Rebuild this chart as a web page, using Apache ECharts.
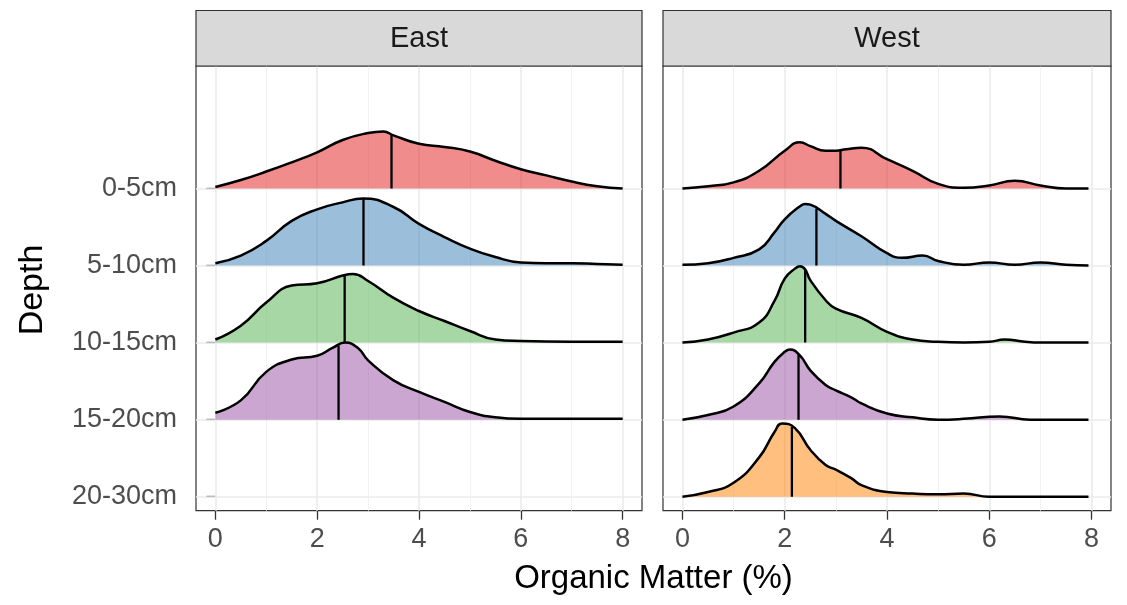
<!DOCTYPE html>
<html><head><meta charset="utf-8">
<script src="https://cdn.jsdelivr.net/npm/echarts@6/dist/echarts.min.js"></script>
<style>html,body{margin:0;padding:0;background:#fff}#c{width:1127px;height:605px}</style>
</head><body><div id="c"></div>
<script>
// ---- data ----
const depths = ['0-5cm', '5-10cm', '10-15cm', '15-20cm', '20-30cm'];
const panels = ['East', 'West'];
const xTicks = [0, 2, 4, 6, 8];
const xMinor = [1, 3, 5, 7];
const xTitle = 'Organic Matter (%)';
const yTitle = 'Depth';

// ridge heights (in row units) at sampled organic matter values
const eastX_0_5 = [0,0.5,1,1.5,2,2.5,3,3.3,3.5,4,4.5,5,5.5,6,6.5,7,7.5,8];
const eastH_0_5 = [0.02,0.11,0.22,0.34,0.47,0.63,0.72,0.74,0.69,0.58,0.54,0.48,0.36,0.25,0.17,0.09,0.03,0.00];
const eastX_5_10 = [0,0.5,1,1.5,2,2.5,2.9,3.5,4,4.5,5,5.5,6,6.5,7,7.5,8];
const eastH_5_10 = [0.03,0.13,0.32,0.58,0.73,0.82,0.87,0.76,0.54,0.37,0.22,0.11,0.04,0.03,0.03,0.02,0.01];
const eastX_10_15 = [0,0.5,1,1.5,2,2.5,2.7,3,3.5,4,4.5,5,5.5,6,7,8];
const eastH_10_15 = [0.04,0.22,0.52,0.74,0.77,0.87,0.89,0.80,0.58,0.41,0.28,0.15,0.04,0.02,0.01,0.01];
const eastX_15_20 = [0,0.5,1,1.5,2,2.3,2.55,2.8,3,3.5,4,4.5,5,5.5,6,7,8];
const eastH_15_20 = [0.09,0.25,0.62,0.78,0.83,0.93,1.00,0.93,0.77,0.51,0.36,0.23,0.10,0.03,0.01,0.01,0.01];
const eastMedians = [3.46, 2.91, 2.54, 2.42];

const westX_0_5 = [0,0.5,1,1.5,2,2.3,2.5,2.8,3,3.2,3.5,4,4.5,5,5.5,6,6.5,7,7.5,7.94];
const westH_0_5 = [0,0.03,0.08,0.23,0.49,0.60,0.55,0.49,0.49,0.51,0.53,0.38,0.23,0.06,0.01,0.04,0.10,0.04,0.00,0];
const westX_5_10 = [0,0.5,1,1.5,1.8,2,2.3,2.4,2.5,2.8,3,3.5,4,4.3,4.7,5,5.5,6,6.5,7,7.5,7.94];
const westH_5_10 = [0.01,0.03,0.10,0.21,0.43,0.60,0.77,0.80,0.79,0.67,0.58,0.38,0.16,0.10,0.13,0.06,0.01,0.04,0.01,0.04,0.01,0.00];
const westX_10_15 = [0,0.5,1,1.5,1.8,2,2.2,2.3,2.4,2.5,2.8,3,3.5,4,4.5,5,5.5,6,6.3,6.7,7,7.94];
const westH_10_15 = [0,0.04,0.13,0.26,0.54,0.83,0.96,0.99,0.95,0.81,0.55,0.44,0.32,0.14,0.04,0.01,0.00,0.01,0.04,0.01,0,0];
const westX_15_20 = [0,0.5,1,1.5,1.8,2,2.1,2.3,2.5,2.8,3,3.3,3.5,4,4.5,5,5.5,6.2,6.8,7.94];
const westH_15_20 = [0,0.06,0.17,0.47,0.75,0.88,0.91,0.83,0.64,0.45,0.38,0.29,0.21,0.08,0.03,0.00,0.01,0.04,0.00,0];
const westX_20_30 = [0,0.5,1,1.5,1.8,1.95,2.2,2.5,2.8,3,3.3,3.5,4,4.5,5,5.5,6,7,7.94];
const westH_20_30 = [0.00,0.06,0.18,0.51,0.84,0.95,0.89,0.61,0.41,0.35,0.24,0.15,0.06,0.04,0.03,0.04,0.00,0,0];
const westMedians = [3.09, 2.62, 2.40, 2.27, 2.14];

// ---- styling ----
const fills = ['rgba(228,26,28,0.5)','rgba(55,126,184,0.5)','rgba(77,175,74,0.5)','rgba(152,78,163,0.5)','rgba(255,127,0,0.5)'];
const FONT = '"Liberation Sans", Arial, Helvetica, sans-serif';

const eastRidges = [[eastX_0_5, eastH_0_5],[eastX_5_10, eastH_5_10],[eastX_10_15, eastH_10_15],[eastX_15_20, eastH_15_20]];
const westRidges = [[westX_0_5, westH_0_5],[westX_5_10, westH_5_10],[westX_10_15, westH_10_15],[westX_15_20, westH_15_20],[westX_20_30, westH_20_30]];

function baseOf(i) { return depths.length - i; }  // 0-5cm at top
function interp(xs, hs, v) {
  for (let i = 1; i < xs.length; i++) {
    if (v <= xs[i]) { const t = (v - xs[i-1]) / (xs[i] - xs[i-1]); return hs[i-1] + t * (hs[i] - hs[i-1]); }
  }
  return hs[hs.length - 1];
}

const grids = [
  { left: 196, top: 66, width: 446, height: 444.7 },
  { left: 663, top: 66, width: 448, height: 444.7 }
];
const X_MIN = -0.38, X_MAX = 8.38, Y_MIN = 0.818, Y_MAX = 6.59;

const xAxes = [], yAxes = [], series = [];
panels.forEach((p, pi) => {
  xAxes.push({
    type: 'value', gridIndex: pi, min: X_MIN, max: X_MAX,
    axisLine: { show: false }, splitLine: { show: false },
    axisTick: { show: true, length: 9, lineStyle: { color: '#333', width: 1.3 }, customValues: xTicks },
    axisLabel: { show: true, customValues: xTicks, margin: 15, color: '#4D4D4D', fontSize: 27, fontFamily: FONT }
  });
  yAxes.push({
    type: 'value', gridIndex: pi, min: Y_MIN, max: Y_MAX,
    axisLine: { show: false }, splitLine: { show: false },
    axisTick: { show: pi === 0, length: 9, lineStyle: { color: '#333', width: 1.3 }, customValues: [1,2,3,4,5] },
    axisLabel: { show: pi === 0, customValues: [1,2,3,4,5], margin: 19, color: '#4D4D4D', fontSize: 27, fontFamily: FONT,
      formatter: v => depths[depths.length - Math.round(v)] }
  });
  // grid lines helper
  series.push({
    type: 'line', xAxisIndex: pi, yAxisIndex: pi, data: [[0, 1]], showSymbol: false, silent: true,
    lineStyle: { opacity: 0 }, z: 1,
    markLine: {
      z: 1, silent: true, symbol: ['none', 'none'], label: { show: false }, animation: false,
      data: [
        ...xMinor.map(v => ({ xAxis: v, lineStyle: { color: '#F2F2F2', width: 1, type: 'solid' } })),
        ...xTicks.map(v => ({ xAxis: v, lineStyle: { color: '#EBEBEB', width: 1.6, type: 'solid' } })),
        ...depths.map((d, i) => ({ yAxis: baseOf(i), lineStyle: { color: '#EBEBEB', width: 1.6, type: 'solid' } }))
      ]
    }
  });
  const ridges = pi === 0 ? eastRidges : westRidges;
  const meds = pi === 0 ? eastMedians : westMedians;
  ridges.forEach(([xs, hs], i) => {
    const base = baseOf(i);
    series.push({
      type: 'line', name: panels[pi] + ' ' + depths[i], xAxisIndex: pi, yAxisIndex: pi,
      data: xs.map((x, k) => [x, base + hs[k]]),
      smooth: 0.5, showSymbol: false, silent: true, z: 3,
      lineStyle: { color: '#000', width: 2.5, join: 'round' },
      areaStyle: { color: fills[i], origin: base, opacity: 1 }
    });
    const m = meds[i];
    series.push({
      type: 'line', xAxisIndex: pi, yAxisIndex: pi, z: 3, silent: true, showSymbol: false,
      data: [[m, base], [m, base + interp(xs, hs, m)]],
      lineStyle: { color: '#000', width: 2.3 }
    });
  });
});

const graphics = [];
panels.forEach((p, pi) => {
  const g = grids[pi];
  graphics.push({ type: 'rect', shape: { x: g.left, y: 10.5, width: g.width, height: 55.5 },
    style: { fill: '#D9D9D9', stroke: '#333', lineWidth: 1.2 }, z: 10 });
  graphics.push({ type: 'text', x: g.left + g.width / 2, y: 38.5, z: 11,
    style: { text: p, fill: '#1A1A1A', font: '29px ' + FONT, textAlign: 'center', textVerticalAlign: 'middle' } });
});
graphics.push({ type: 'text', x: 653.5, y: 579, z: 11,
  style: { text: xTitle, fill: '#000', font: '33px ' + FONT, textAlign: 'center', textVerticalAlign: 'middle' } });
graphics.push({ type: 'text', x: 33, y: 290, rotation: Math.PI / 2, z: 11,
  style: { text: yTitle, fill: '#000', font: '34px ' + FONT, textAlign: 'center', textVerticalAlign: 'middle' } });

const chart = echarts.init(document.getElementById('c'), null, { renderer: 'canvas' });
chart.setOption({
  animation: false,
  backgroundColor: '#fff',
  grid: grids.map(g => Object.assign({ show: true, borderColor: '#333', borderWidth: 1.2, backgroundColor: '#fff' }, g)),
  xAxis: xAxes,
  yAxis: yAxes,
  series: series,
  graphic: graphics
});
</script></body></html>
